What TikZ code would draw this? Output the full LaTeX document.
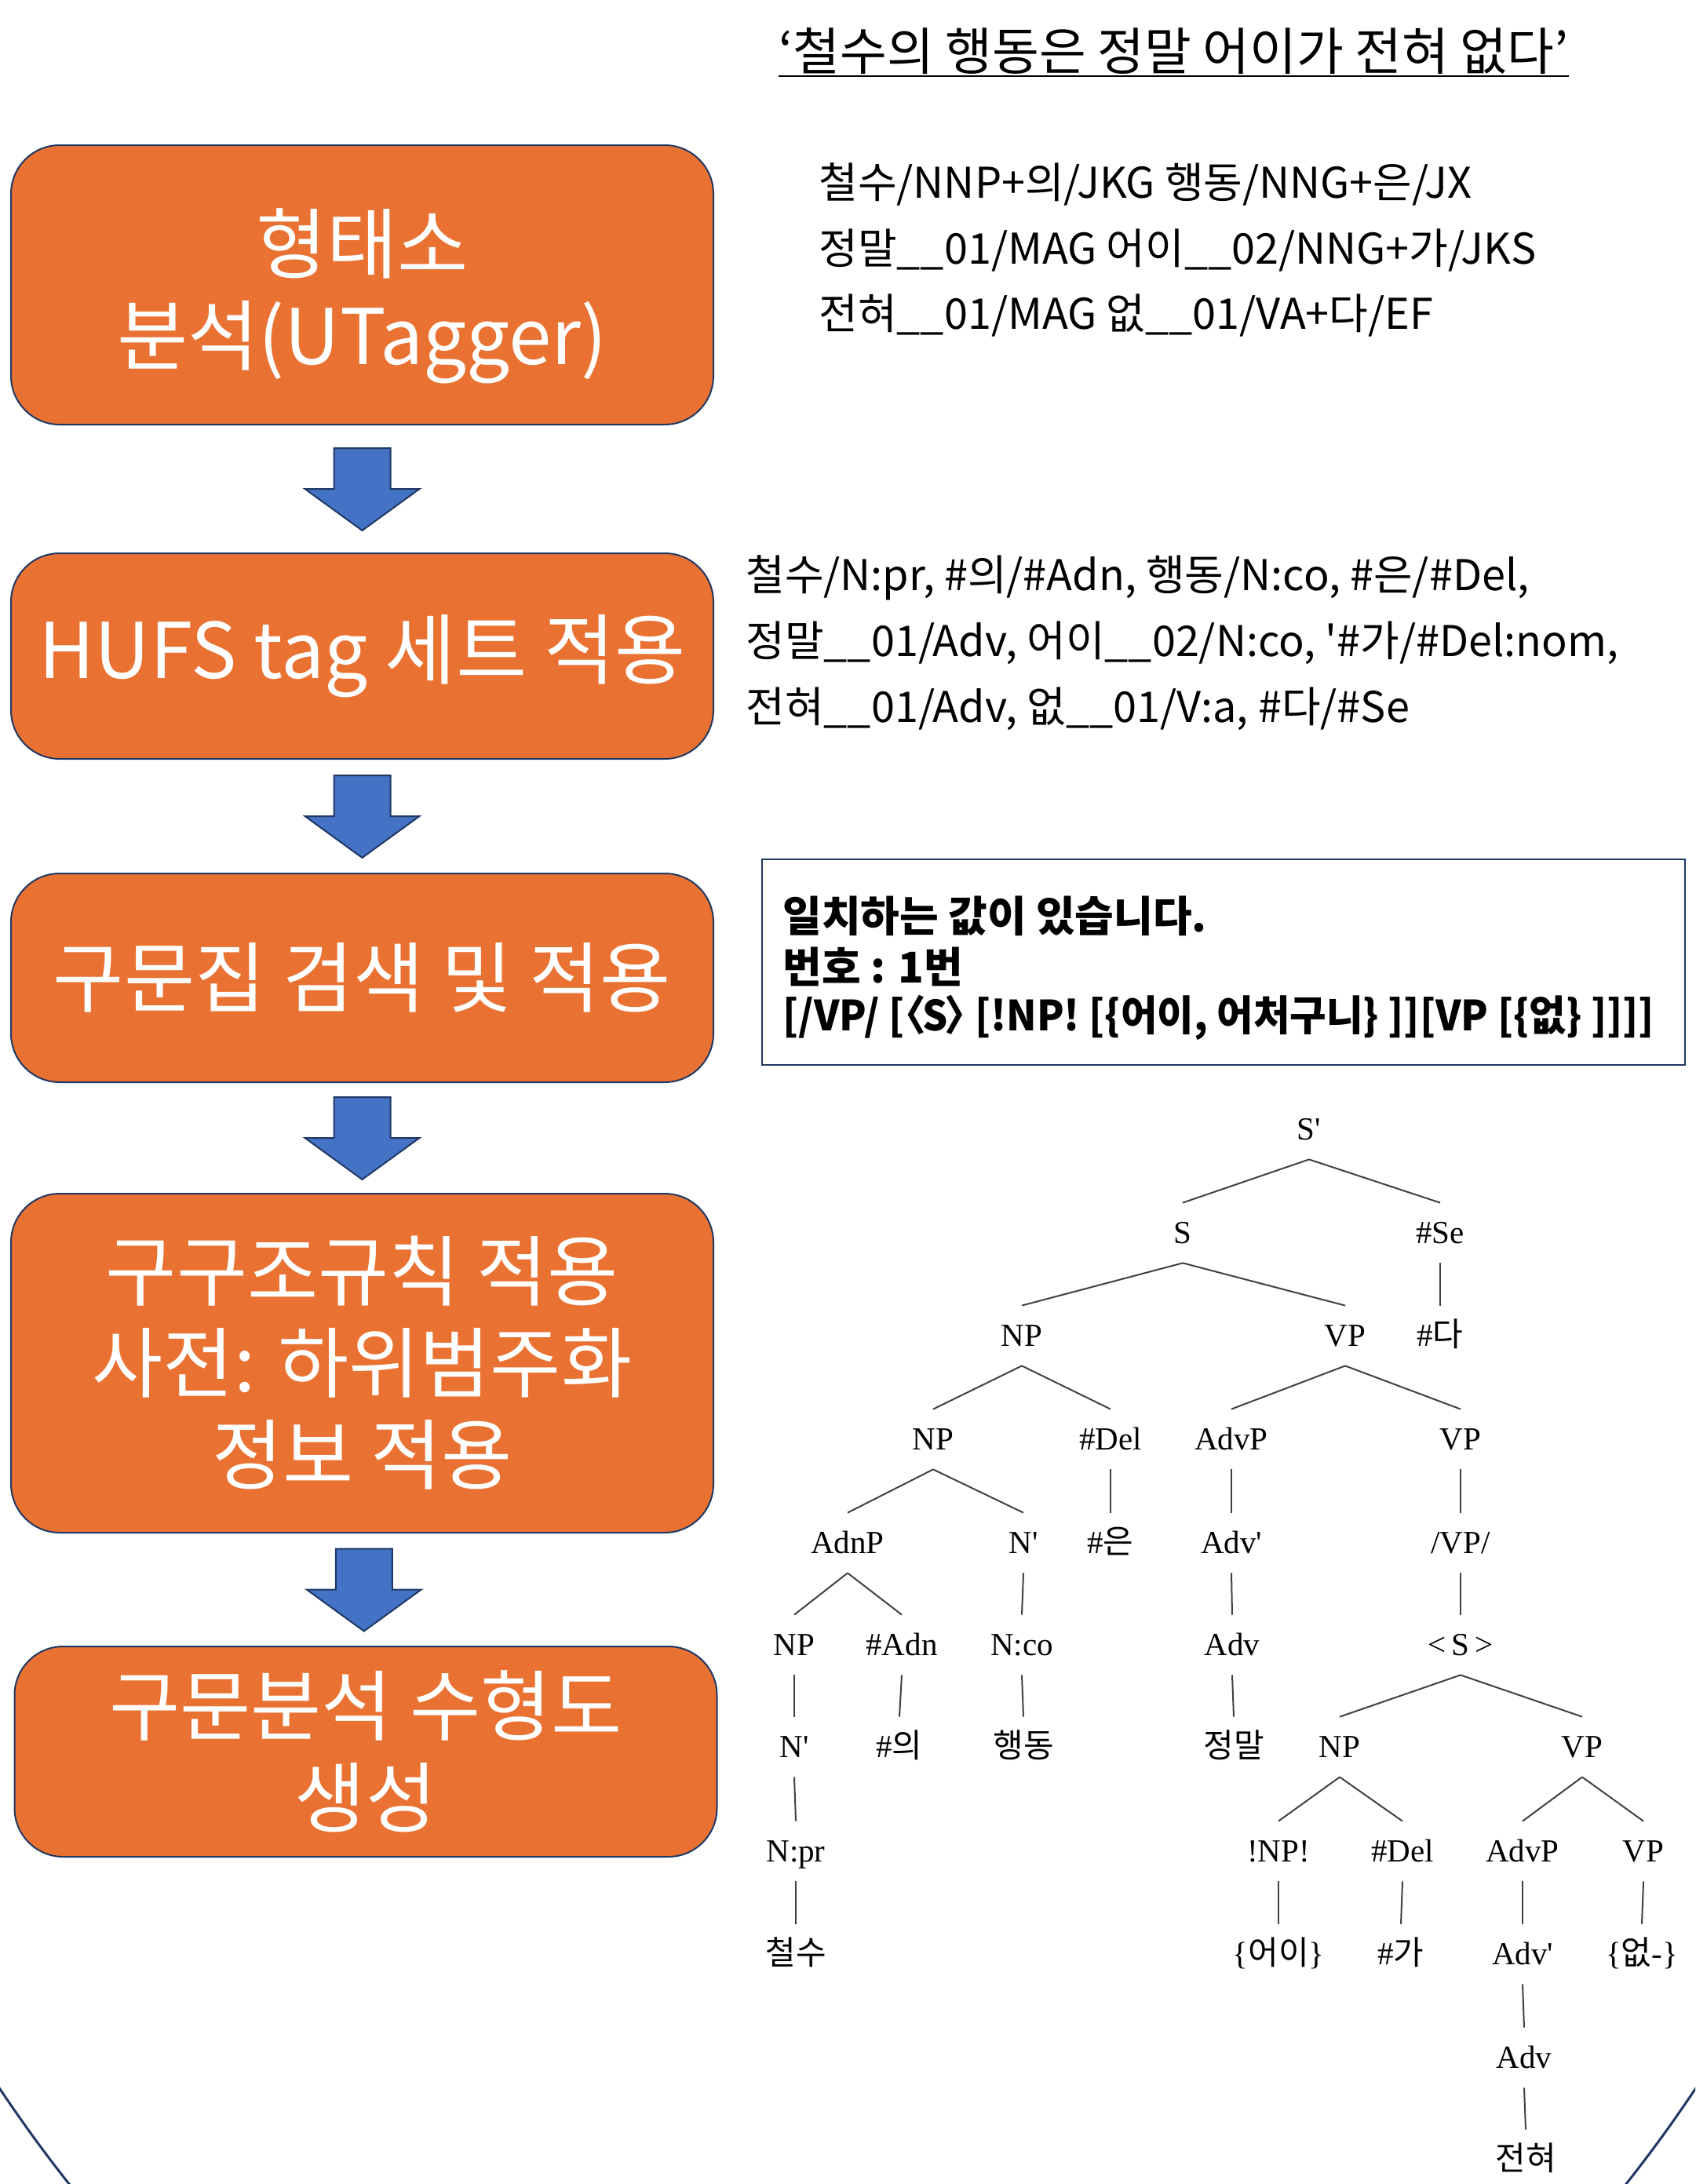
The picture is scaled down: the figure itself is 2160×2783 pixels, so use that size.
\documentclass[tikz,border=0pt]{standalone}
\usepackage{fontspec}
\usetikzlibrary{calc}
\newfontfamily\kr[Ligatures=TeXOff]{Noto Sans CJK KR}
\newfontfamily\krn[FakeStretch=0.955,Ligatures=TeXOff]{Noto Sans CJK KR}
\newfontfamily\krt[Ligatures=TeXOff]{Noto Sans CJK KR}
\newfontfamily\tr[Ligatures=TeXOff]{Liberation Serif}
\newcommand{\hk}[1]{{\krt\fontsize{21pt}{24pt}\selectfont #1}}
\definecolor{orng}{HTML}{E97233}
\definecolor{navy}{HTML}{1F3864}
\definecolor{ablue}{HTML}{4472C4}
\definecolor{tgray}{HTML}{404040}
\newcommand{\blockarrow}[3]{%
  \coordinate (#1) at ($(#2.south)!0.5!(#3.north)$);
  \draw[arrowshape] ($(#1)+(-36,-52)$) -- ($(#1)+(36,-52)$) -- ($(#1)+(36,0)$) -- ($(#1)+(73,0)$) -- ($(#1)+(0,53)$) -- ($(#1)+(-73,0)$) -- ($(#1)+(-36,0)$) -- cycle;}
\begin{document}
\begin{tikzpicture}[x=0.5pt,y=-0.5pt,
  stepbox/.style={draw=navy, line width=1pt, fill=orng, rounded corners=31pt,
    minimum width=447.5pt, text=white, align=center, inner sep=0pt,
    font=\kr\fontsize{49pt}{58.5pt}\selectfont},
  arrowshape/.style={draw=navy, line width=1pt, fill=ablue, line join=miter},
  plain/.style={anchor=base west, inner sep=0pt, font=\kr\fontsize{27pt}{32pt}\selectfont},
  boldtxt/.style={anchor=base west, inner sep=0pt, font=\kr\bfseries\fontsize{27pt}{32pt}\selectfont},
  tn/.style={inner xsep=0pt, inner ysep=10pt, text height=15.5pt, text depth=2.5pt,
    font=\tr\fontsize{20.5pt}{24pt}\selectfont},
  edge/.style={draw=tgray, line width=1pt}]
\useasboundingbox (0,0) rectangle (2160,2783);
\begin{scope}
  \clip (0,0) rectangle (2160,2783);
  \draw[navy, line width=1.5pt] (1080,1300) ellipse [x radius=733pt, y radius=1007pt];
\end{scope}

% title
\node[anchor=base west, inner sep=0pt, font=\kr\fontsize{32.5pt}{36pt}\selectfont] (title) at (992,90) {‘철수의 행동은 정말 어이가 전혀 없다’};
\draw[line width=1.4pt] ($(title.base west)+(0,7)$) -- ($(title.base east)+(0,7)$);

% left flow boxes
\node[stepbox, minimum height=178pt] (b1) at (461.5,363) {\rule{0pt}{55pt}형태소\\분석(UTagger)};
\node[stepbox, minimum height=131pt] (b2) at (461.5,836) {HUFS tag 세트 적용};
\node[stepbox, minimum height=133pt] (b3) at (461.5,1246) {구문집 검색 및 적용};
\node[stepbox, minimum height=216pt] (b4) at (461.5,1737) {구구조규칙 적용\\사전: 하위범주화\\정보 적용};
\node[stepbox, minimum height=134pt] (b5) at (466,2232) {구문분석 수형도\\생성};

\blockarrow{a1}{b1}{b2}
\blockarrow{a2}{b2}{b3}
\blockarrow{a3}{b3}{b4}
\blockarrow{a4}{b4}{b5}

% text block 1
\node[plain] (t1a) at (1043,252) {철수/NNP+의/JKG 행동/NNG+은/JX};
\node[plain] (t1b) at (1043,336) {정말\_\_01/MAG 어이\_\_02/NNG+가/JKS};
\node[plain] (t1c) at (1043,419) {전혀\_\_01/MAG 없\_\_01/VA+다/EF};

% text block 2
\node[plain] (t2a) at (950,752) {철수/N:pr, \#의/\#Adn, 행동/N:co, \#은/\#Del,};
\node[plain] (t2b) at (950,836) {정말\_\_01/Adv, 어이\_\_02/N:co, '\#가/\#Del:nom,};
\node[plain] (t2c) at (950,920) {전혀\_\_01/Adv, 없\_\_01/V:a, \#다/\#Se};

% match box
\node[draw=navy, line width=1.2pt, minimum width=588pt, minimum height=131pt, inner sep=0pt] (mbox) at (1559,1226) {};
\node[boldtxt] (m1) at (997,1187) {일치하는 값이 있습니다.};
\node[boldtxt] (m2) at (997,1252) {번호 : 1번};
\node[boldtxt, font=\krn\bfseries\fontsize{26.5pt}{32pt}\selectfont] (m3) at (997,1313) {[/VP/ [\kern-0.45em〈\kern-0.08em S\kern-0.08em〉\kern-0.45em\ [!NP! [\{어이, 어처구니\} ]][VP [\{없\} ]]]]};

% tree
\node[tn] (s1) at (1668,1439) {S'};
\node[tn] (s2) at (1507,1571) {S};
\node[tn] (se) at (1835,1571) {\#Se};
\node[tn] (np1) at (1302,1702) {NP};
\node[tn] (vp1) at (1714,1702) {VP};
\node[tn] (da) at (1835,1702) {\#\hk{다}};
\node[tn] (np2) at (1189,1834) {NP};
\node[tn] (del1) at (1415,1834) {\#Del};
\node[tn] (advp1) at (1569,1834) {AdvP};
\node[tn] (vp2) at (1861,1834) {VP};
\node[tn] (adnp) at (1080,1966) {AdnP};
\node[tn] (nbar1) at (1304,1966) {N'};
\node[tn] (eun) at (1415,1966) {\#\hk{은}};
\node[tn] (advb1) at (1569,1966) {Adv'};
\node[tn] (vpsl) at (1861,1966) {/VP/};
\node[tn] (np3) at (1012,2096) {NP};
\node[tn] (adn) at (1149,2096) {\#Adn};
\node[tn] (nco) at (1302,2096) {N:co};
\node[tn] (adv1) at (1570,2096) {Adv};
\node[tn] (sang) at (1861,2096) {<\,S\,>};
\node[tn] (nbar2) at (1012,2226) {N'};
\node[tn] (ui) at (1146,2226) {\#\hk{의}};
\node[tn] (haeng) at (1304,2226) {\hk{행동}};
\node[tn] (jeong) at (1572,2226) {\hk{정말}};
\node[tn] (np4) at (1707,2226) {NP};
\node[tn] (vp3) at (2016,2226) {VP};
\node[tn] (npr) at (1014,2359) {N:pr};
\node[tn] (bnp) at (1629,2359) {!NP!};
\node[tn] (del2) at (1787,2359) {\#Del};
\node[tn] (advp2) at (1940,2359) {AdvP};
\node[tn] (vp4) at (2094,2359) {VP};
\node[tn] (cheol) at (1014,2490) {\hk{철수}};
\node[tn] (eoi) at (1629,2490) {\{\hk{어이}\}};
\node[tn] (ga) at (1785,2490) {\#\hk{가}};
\node[tn] (advb2) at (1940,2490) {Adv'};
\node[tn] (eop) at (2092,2490) {\{\hk{없}-\}};
\node[tn] (adv2) at (1942,2622) {Adv};
\node[tn] (jeon) at (1944,2752) {\hk{전혀}};

\foreach \p/\c in {s1/s2, s1/se, se/da, s2/np1, s2/vp1, np1/np2, np1/del1,
  vp1/advp1, vp1/vp2, np2/adnp, np2/nbar1, del1/eun, advp1/advb1, vp2/vpsl,
  adnp/np3, adnp/adn, nbar1/nco, advb1/adv1, vpsl/sang, np3/nbar2, adn/ui,
  nco/haeng, adv1/jeong, sang/np4, sang/vp3, nbar2/npr, np4/bnp, np4/del2,
  vp3/advp2, vp3/vp4, npr/cheol, bnp/eoi, del2/ga, advp2/advb2, vp4/eop,
  advb2/adv2, adv2/jeon}
  \draw[edge] (\p.south) -- (\c.north);
\end{tikzpicture}
\end{document}
